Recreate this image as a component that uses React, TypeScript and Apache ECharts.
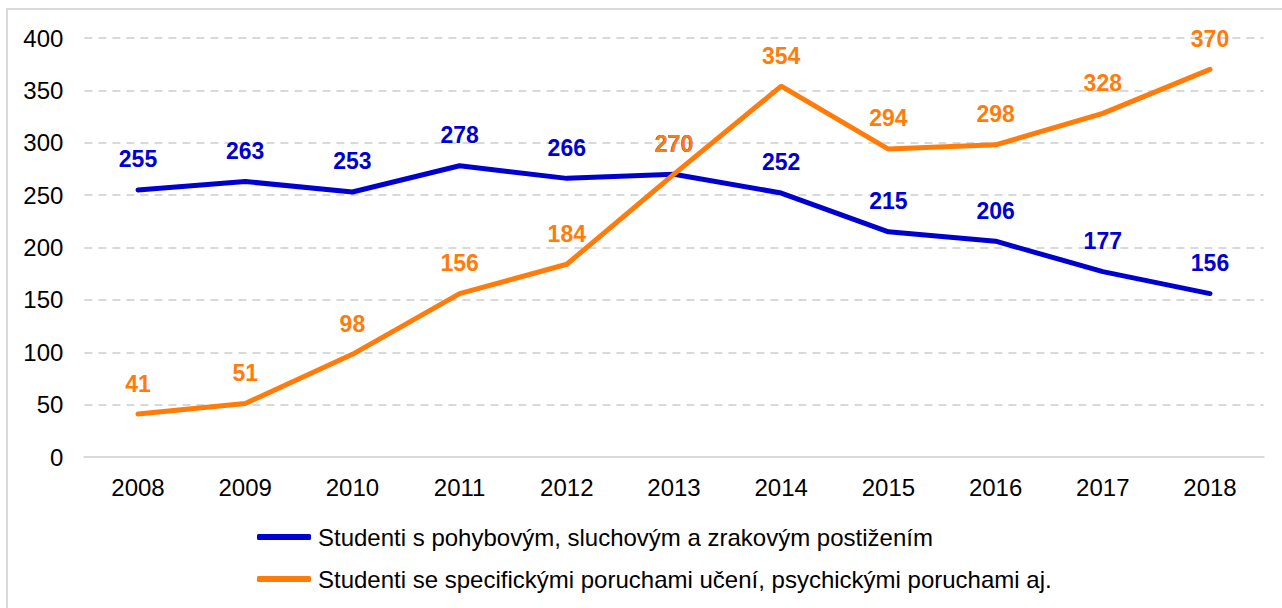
import React, { useEffect, useRef } from "react";
import * as echarts from "echarts";

const categories = ["2008", "2009", "2010", "2011", "2012", "2013", "2014", "2015", "2016", "2017", "2018"];
const seriesNames = [
  "Studenti s pohybovým, sluchovým a zrakovým postižením",
  "Studenti se specifickými poruchami učení, psychickými poruchami aj.",
];
const blueValues = [255, 263, 253, 278, 266, 270, 252, 215, 206, 177, 156];
const orangeValues = [41, 51, 98, 156, 184, 270, 354, 294, 298, 328, 370];

const BLUE = "#0000D0";
const ORANGE = "#FF7C0A";
const FONT = "Liberation Sans, Arial, sans-serif";

export default function App() {
  const ref = useRef<HTMLDivElement>(null);
  useEffect(() => {
    if (!ref.current) return;
    const chart = echarts.init(ref.current, null, { renderer: "svg" });
    const label = (color: string) => ({
      show: true,
      position: "top" as const,
      distance: 19,
      color,
      fontSize: 23,
      fontWeight: "bold" as const,
      fontFamily: FONT,
    });
    chart.setOption({
      animation: false,
      textStyle: { fontFamily: FONT },
      grid: { left: 84.4, right: 18.4, top: 38, bottom: 151, containLabel: false },
      xAxis: {
        type: "category",
        data: categories,
        boundaryGap: true,
        axisLine: { show: true, lineStyle: { color: "#d9d9d9", width: 2 } },
        axisTick: { show: false },
        axisLabel: { color: "#000", fontSize: 24, margin: 18, fontFamily: FONT },
      },
      yAxis: {
        type: "value",
        min: 0,
        max: 400,
        interval: 50,
        axisLine: { show: false },
        axisTick: { show: false },
        axisLabel: { color: "#000", fontSize: 24, margin: 21, fontFamily: FONT },
        splitLine: { lineStyle: { color: "#d9d9d9", width: 2, type: [8, 6] } },
      },
      legend: {
        orient: "vertical",
        left: 252,
        top: 520,
        itemGap: 18,
        itemWidth: 54,
        itemHeight: 6,
        icon: "roundRect",
        textStyle: { color: "#000", fontSize: 24, fontFamily: FONT, padding: [0, 0, 0, 2] },
        data: seriesNames,
      },
      series: [
        {
          name: seriesNames[0],
          type: "line",
          data: blueValues,
          symbol: "circle",
          symbolSize: 0.1,
          showSymbol: true,
          lineStyle: { color: BLUE, width: 5, cap: "round" },
          itemStyle: { color: BLUE },
          label: label(BLUE),
        },
        {
          name: seriesNames[1],
          type: "line",
          data: orangeValues,
          symbol: "circle",
          symbolSize: 0.1,
          showSymbol: true,
          lineStyle: { color: ORANGE, width: 5, cap: "round" },
          itemStyle: { color: ORANGE },
          label: label(ORANGE),
        },
      ],
    });
    return () => chart.dispose();
  }, []);
  return (
    <div style={{ position: "fixed", left: 0, top: 0, width: 1282, height: 608, overflow: "hidden", background: "#fff" }}>
      <div
        style={{
          position: "absolute",
          left: 6,
          top: 8,
          width: 1400,
          height: 700,
          border: "2px solid #d9d9d9",
          boxSizing: "border-box",
        }}
      />
      <div ref={ref} style={{ position: "absolute", left: 0, top: 0, width: 1282, height: 608 }} />
    </div>
  );
}
